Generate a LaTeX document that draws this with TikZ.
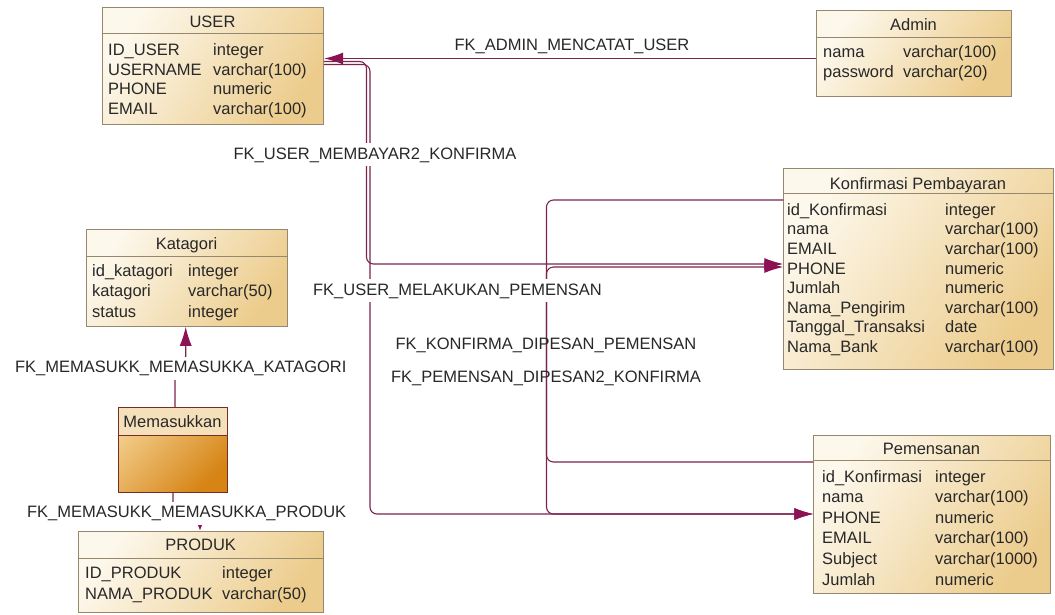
\documentclass[tikz,border=0pt]{standalone}
\usepackage{fontspec}
\setmainfont{Liberation Sans}
\usetikzlibrary{arrows.meta}
\definecolor{tableLight}{RGB}{253, 248, 236}
\definecolor{tableDark}{RGB}{236, 204, 140}
\definecolor{tableBorder}{RGB}{150, 136, 108}
\definecolor{entityLight}{RGB}{242, 205, 140}
\definecolor{entityDark}{RGB}{214, 132, 20}
\definecolor{entityHead}{RGB}{245, 224, 188}
\definecolor{entityBorder}{RGB}{120, 45, 35}
\definecolor{fkLine}{RGB}{122, 36, 78}
\definecolor{fkHead}{RGB}{140, 18, 84}
\definecolor{textDark}{RGB}{40, 40, 40}
\newcommand{\erd}{\fontsize{16.5}{20}\selectfont}

\begin{document}
\begin{tikzpicture}[
    x=1pt, y=-1pt,
    tbl/.style={
        draw=tableBorder,
        line width=0.8pt,
        left color=tableLight,
        right color=tableDark,
        shading angle=55,
        anchor=north west,
        inner sep=0pt
    },
    sep/.style={draw=tableBorder, line width=0.8pt},
    head/.style={font=\erd, text=textDark, inner sep=0pt, anchor=base},
    cell/.style={font=\erd, text=textDark, inner sep=0pt, anchor=base west},
    fk/.style={
        draw=fkLine,
        line width=1.1pt,
        rounded corners=7pt,
        -{Latex[length=19pt, width=12pt, color=fkHead]}
    },
    fklabel/.style={font=\erd, text=textDark, fill=white, inner xsep=1pt, inner ysep=4pt, anchor=base}
]
    \useasboundingbox[fill=white] (0,0) rectangle (1055,614);

    % Tables
    \node[tbl, minimum width=221.6pt, minimum height=116.7pt] (user) at (101.7,7.3) {};
    \draw[sep] (user.west |- 0,33.3) -- (user.east |- 0,33.3);
    \node[head] (user-h) at (212.5,27.7) {USER};
    \foreach \i/\col/\typ in {0/ID\_USER/integer, 1/USERNAME/varchar(100), 2/PHONE/numeric, 3/EMAIL/varchar(100)} {
        \node[cell] (user-c\i) at (108, 55.3+19.7*\i) {\col};
        \node[cell] (user-t\i) at (213, 55.3+19.7*\i) {\typ};
    }

    \node[tbl, minimum width=195pt, minimum height=86pt] (admin) at (816,10) {};
    \draw[sep] (admin.west |- 0,37.3) -- (admin.east |- 0,37.3);
    \node[head] (admin-h) at (913.5,30) {Admin};
    \foreach \i/\col/\typ in {0/nama/varchar(100), 1/password/varchar(20)} {
        \node[cell] (admin-c\i) at (823, 57.7+20*\i) {\col};
        \node[cell] (admin-t\i) at (903, 57.7+20*\i) {\typ};
    }

    \node[tbl, minimum width=269.4pt, minimum height=201pt] (konf) at (783.3,168.3) {};
    \draw[sep] (konf.west |- 0,193.3) -- (konf.east |- 0,193.3);
    \node[head] (konf-h) at (918,189.3) {Konfirmasi Pembayaran};
    \foreach \i/\col/\typ in {0/id\_Konfirmasi/integer, 1/nama/varchar(100), 2/EMAIL/varchar(100), 3/PHONE/numeric, 4/Jumlah/numeric, 5/Nama\_Pengirim/varchar(100), 6/Tanggal\_Transaksi/date, 7/Nama\_Bank/varchar(100)} {
        \node[cell] (konf-c\i) at (787, 215.3+19.6*\i) {\col};
        \node[cell] (konf-t\i) at (945, 215.3+19.6*\i) {\typ};
    }

    \node[tbl, minimum width=200.7pt, minimum height=96.7pt] (katagori) at (86,229.3) {};
    \draw[sep] (katagori.west |- 0,256.7) -- (katagori.east |- 0,256.7);
    \node[head] (katagori-h) at (186.5,249.3) {Katagori};
    \foreach \i/\col/\typ in {0/id\_katagori/integer, 1/katagori/varchar(50), 2/status/integer} {
        \node[cell] (katagori-c\i) at (92, 276+20.7*\i) {\col};
        \node[cell] (katagori-t\i) at (188, 276+20.7*\i) {\typ};
    }

    \node[draw=entityBorder, line width=1pt, left color=entityLight, right color=entityDark, shading angle=45,
          anchor=north west, minimum width=108.4pt, minimum height=84.4pt] (memasukkan) at (118.3,407.3) {};
    \node[draw=entityBorder, line width=1pt, fill=entityHead, anchor=north west,
          minimum width=108.4pt, minimum height=27.7pt] (memasukkan-h) at (118.3,407.3) {};
    \node[head] (memasukkan-t) at (172.5,427.5) {Memasukkan};

    \node[tbl, minimum width=245pt, minimum height=81pt] (produk) at (78.3,530.7) {};
    \draw[sep] (produk.west |- 0,558.3) -- (produk.east |- 0,558.3);
    \node[head] (produk-h) at (200.7,550) {PRODUK};
    \foreach \i/\col/\typ in {0/ID\_PRODUK/integer, 1/NAMA\_PRODUK/varchar(50)} {
        \node[cell] (produk-c\i) at (85, 578+21*\i) {\col};
        \node[cell] (produk-t\i) at (222, 578+21*\i) {\typ};
    }

    \node[tbl, minimum width=236.7pt, minimum height=158.3pt] (pem) at (813.3,435) {};
    \draw[sep] (pem.west |- 0,460) -- (pem.east |- 0,460);
    \node[head] (pem-h) at (931.5,454.3) {Pemensanan};
    \foreach \i/\col/\typ in {0/id\_Konfirmasi/integer, 1/nama/varchar(100), 2/PHONE/numeric, 3/EMAIL/varchar(100), 4/Subject/varchar(1000), 5/Jumlah/numeric} {
        \node[cell] (pem-c\i) at (822, 482+20.65*\i) {\col};
        \node[cell] (pem-t\i) at (935, 482+20.65*\i) {\typ};
    }

    % References
    \draw[fk] (admin.west |- 0,58.5) -- (user.east |- 0,58.5);
    \draw[fk] (user.east |- 0,61.5) -- (366.5,61.5) -- (366.5,264) -- (konf.west |- 0,264);
    \draw[fk] (user.east |- 0,64.5) -- (370,64.5) -- (370,514) -- (pem.west |- 0,514);
    \draw[fk] (konf.west |- 0,200) -- (546.5,200) -- (546.5,514) -- (pem.west |- 0,514);
    \draw[fk] (pem.west |- 0,462) -- (546.5,462) -- (546.5,267) -- (konf.west |- 0,267);
    \draw[fk] (memasukkan.north -| 175,0) -- (175,367) -- (185.7,367) -- (katagori.south -| 185.7,0);
    \draw[fk, -{Latex[length=6pt, width=5pt, color=fkHead]}] (memasukkan.south -| 173,0) -- (173,512) -- (200,512) -- (produk.north -| 200,0);

    % Reference names
    \node[fklabel] (fk-admin) at (572,50) {FK\_ADMIN\_MENCATAT\_USER};
    \node[fklabel] (fk-membayar) at (375,159) {FK\_USER\_MEMBAYAR2\_KONFIRMA};
    \node[fklabel] (fk-melakukan) at (457.5,295) {FK\_USER\_MELAKUKAN\_PEMENSAN};
    \node[fklabel, fill=none] (fk-dipesan) at (546,349.3) {FK\_KONFIRMA\_DIPESAN\_PEMENSAN};
    \node[fklabel, fill=none] (fk-dipesan2) at (546,382.7) {FK\_PEMENSAN\_DIPESAN2\_KONFIRMA};
    \node[fklabel] (fk-katagori) at (180.8,372.7) {FK\_MEMASUKK\_MEMASUKKA\_KATAGORI};
    \node[fklabel] (fk-produk) at (186.7,517.7) {FK\_MEMASUKK\_MEMASUKKA\_PRODUK};

\end{tikzpicture}
\end{document}
